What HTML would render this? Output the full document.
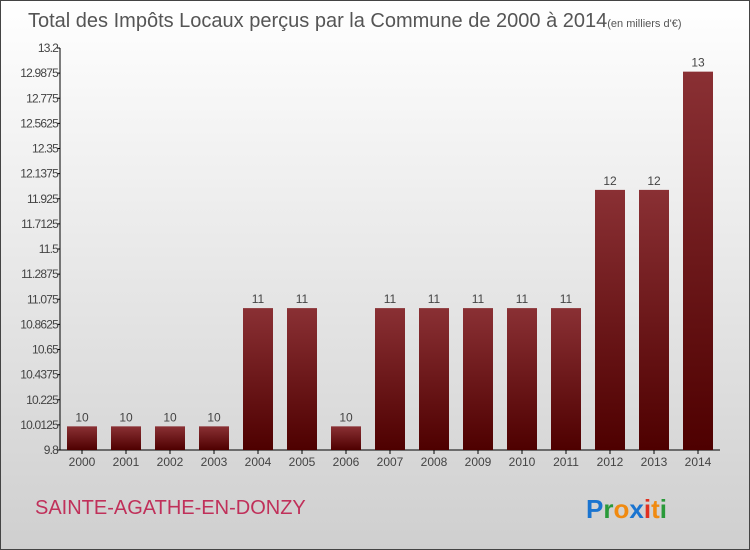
<!DOCTYPE html>
<html><head><meta charset="utf-8"><style>
html,body{margin:0;padding:0}
body{width:750px;height:550px;overflow:hidden;font-family:"Liberation Sans",sans-serif}
#frame{position:absolute;left:0;top:0;width:748px;height:548px;border:1px solid #444;background:linear-gradient(#ffffff,#cfcfcf)}
</style></head><body>
<div id="frame"></div>
<svg id="chart" width="750" height="550" style="position:absolute;left:0;top:0">
<defs><linearGradient id="bg" x1="0" y1="0" x2="0" y2="1"><stop offset="0" stop-color="#8a3034"/><stop offset="1" stop-color="#4e0000"/></linearGradient></defs>
<text x="28" y="27" font-size="20" fill="#555" font-weight="300">Total des Impôts Locaux perçus par la Commune de 2000 à 2014<tspan font-size="11">(en milliers d'€)</tspan></text>
<g id="axes"></g><g id="bars"></g>
<text x="35" y="514" font-size="20" fill="#c0305a">SAINTE-AGATHE-EN-DONZY</text>
<text x="586" y="518" font-size="26" font-weight="bold" fill="#1a74d0">P<tspan fill="#2a9a3a">r</tspan><tspan fill="#f08a10">o</tspan><tspan fill="#1a74d0">x</tspan><tspan fill="#e03020">i</tspan><tspan fill="#f08a10">t</tspan><tspan fill="#2a9a3a">i</tspan></text>
</svg>
<script>
const years=["2000","2001","2002","2003","2004","2005","2006","2007","2008","2009","2010","2011","2012","2013","2014"];
const values=[10,10,10,10,11,11,10,11,11,11,11,11,12,12,13];
const ticks=["9.8","10.0125","10.225","10.4375","10.65","10.8625","11.075","11.2875","11.5","11.7125","11.925","12.1375","12.35","12.5625","12.775","12.9875","13.2"];
const yMin=9.8,yMax=13.2,plotTop=48,plotBot=450,plotLeft=60,plotRight=720;
const NS="http://www.w3.org/2000/svg";
const yS=v=>plotBot-(v-yMin)/(yMax-yMin)*(plotBot-plotTop);
const band=(plotRight-plotLeft)/years.length;
const xS=i=>plotLeft+band*i+band/2;
function mk(tag,at,parent){const e=document.createElementNS(NS,tag);for(const k in at)e.setAttribute(k,at[k]);parent.appendChild(e);return e;}
const ax=document.getElementById('axes'),bg=document.getElementById('bars');
let l=mk('line',{x1:plotLeft,y1:plotTop,x2:plotLeft,y2:plotBot,stroke:'#000'},ax);


l=mk('line',{x1:plotLeft,y1:plotBot,x2:plotRight,y2:plotBot,stroke:'#000'},ax);


ticks.forEach(t=>{const yy=yS(parseFloat(t));
 mk('line',{x1:plotLeft-3,y1:yy,x2:plotLeft,y2:yy,stroke:'#000'},ax);
 const tx=mk('text',{x:plotLeft-2,y:yy+4,'font-size':12,'text-anchor':'end',fill:'#444','letter-spacing':'-0.8'},ax);
 tx.textContent=t;
 
 });
years.forEach((yr,i)=>{
 const bw=30,h=plotBot-yS(values[i]);
 const r=mk('rect',{x:xS(i)-bw/2,y:yS(values[i]),width:bw,height:h,fill:'url(#bg)'},bg);
 
 
 const v=mk('text',{x:xS(i),y:yS(values[i])-5,'font-size':12,'text-anchor':'middle',fill:'#444'},bg);
 v.textContent=values[i];
 
 
 mk('line',{x1:xS(i),y1:plotBot,x2:xS(i),y2:plotBot+4,stroke:'#000'},ax);
 const t=mk('text',{x:xS(i),y:plotBot+16,'font-size':12,'text-anchor':'middle',fill:'#444'},ax);
 t.textContent=yr;
 
 
});
</script>
</body></html>
